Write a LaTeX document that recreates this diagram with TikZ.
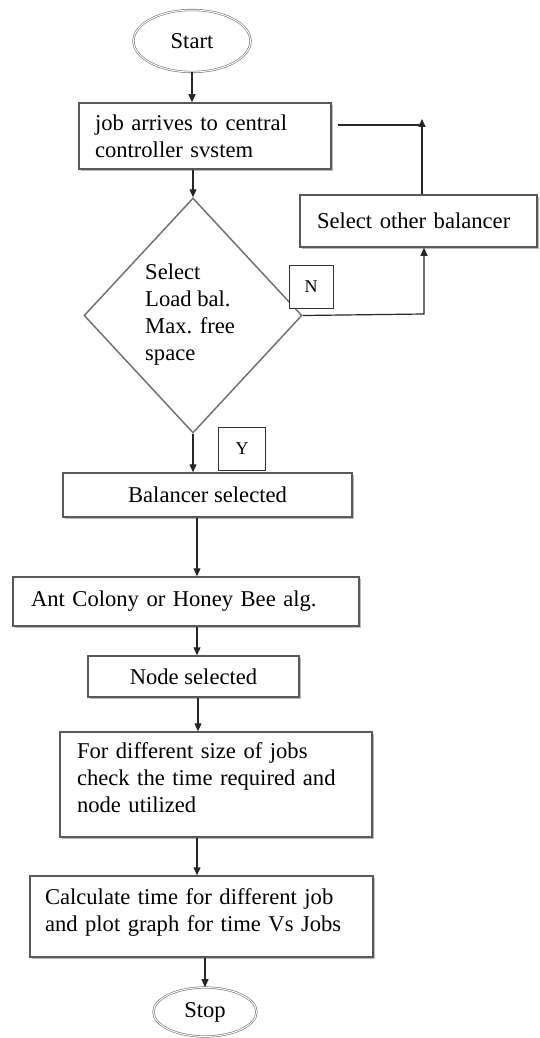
\documentclass[tikz,border=0pt]{standalone}
\usepackage{fontspec}
\setmainfont{Liberation Serif}
\usetikzlibrary{shapes.geometric,arrows.meta,shadows}
\begin{document}
\begin{tikzpicture}[x=1pt,y=-1pt,
  txt/.style={font=\fontsize{22.6}{27}\selectfont},
  box/.style={txt, draw=black!65, line width=1.5pt, fill=white,
    drop shadow={shadow xshift=1.8pt, shadow yshift=-1.8pt, fill=black!45, opacity=0.6},
    inner ysep=0pt},
  lbox/.style={box, align=left},
  cbox/.style={box, align=center},
  term/.style={txt, ellipse, draw=black!55, line width=0.6pt, double=white, double distance=1pt, fill=white, inner sep=0pt},
  dec/.style={diamond, draw=black!55, line width=1.5pt, fill=white, inner sep=0pt},
  tag/.style={draw=black!80, line width=0.9pt, fill=white, inner sep=0pt, font=\fontsize{18}{20}\selectfont},
  arr/.style={draw=black!85, line width=1.2pt, -{Triangle[length=8pt,width=7pt]}},
  ln/.style={draw=black!85, line width=1.2pt}
]
\useasboundingbox (0,0) rectangle (540,1038);
\fill[white] (0,0) rectangle (540,1038);

\node[term, minimum width=117pt, minimum height=62pt] (start) at (192,41) {Start};
\node[lbox, text width=220pt, inner xsep=16pt, minimum height=66pt] (job) at (205,136) {job arrives to central\\controller svstem};
\node[dec, minimum width=218pt, minimum height=235pt] (dec) at (193,315.5) {};
\node[txt, anchor=west, align=left, inner sep=0pt] (dtext) at (145,315) {Select\\Load bal.\\Max. free\\space};
\node[tag, minimum width=44pt, minimum height=43pt] (n) at (311,286.5) {N};
\node[tag, minimum width=47pt, minimum height=43pt] (y) at (242,448.5) {Y};
\node[lbox, text width=203pt, inner xsep=17pt, minimum height=52pt] (sob) at (418.5,221) {Select other balancer};
\node[cbox, minimum width=289pt, minimum height=44pt] (bal) at (207.5,495) {Balancer selected};
\node[lbox, text width=310pt, inner xsep=18pt, minimum height=49pt] (ant) at (186,601.5) {Ant Colony or Honey Bee alg.};
\node[cbox, minimum width=211pt, minimum height=41pt] (nsel) at (193.5,676.5) {Node selected};
\node[lbox, text width=278pt, inner xsep=17pt, minimum height=105pt] (diff) at (216,784.5) {For different size of jobs\\check the time required and\\node utilized\rule[-14pt]{0pt}{0pt}};
\node[lbox, text width=313pt, inner xsep=15pt, minimum height=81pt] (calc) at (201.5,916.5) {Calculate time for different job\\and plot graph for time Vs Jobs\rule[-12pt]{0pt}{0pt}};
\node[term, minimum width=103pt, minimum height=49pt] (stop) at (205,1012) {Stop};

\coordinate (x197) at (197,0);
\coordinate (x198) at (198,0);
\coordinate (nc) at (424,314);
\coordinate (fc) at (422,125);

\draw[arr] (start.south) -- (start.south |- job.north);
\draw[arr] (dec.north |- job.south) -- (dec.north);
\draw[arr] (dec.south) -- (dec.south |- bal.north);
\draw[arr] (x197 |- bal.south) -- (x197 |- ant.north);
\draw[arr] (x197 |- ant.south) -- (x197 |- nsel.north);
\draw[arr] (x198 |- nsel.south) -- (x198 |- diff.north);
\draw[arr] (x197 |- diff.south) -- (x197 |- calc.north);
\draw[arr] (stop.north |- calc.south) -- (stop.north);
\draw[arr] (dec.east) -- (nc) -- (nc |- sob.south);
\draw[arr] (fc |- sob.north) -- ([yshift=6pt]fc);
\draw[ln] (fc) -- ([xshift=6pt]job.east |- fc);
\end{tikzpicture}
\end{document}
